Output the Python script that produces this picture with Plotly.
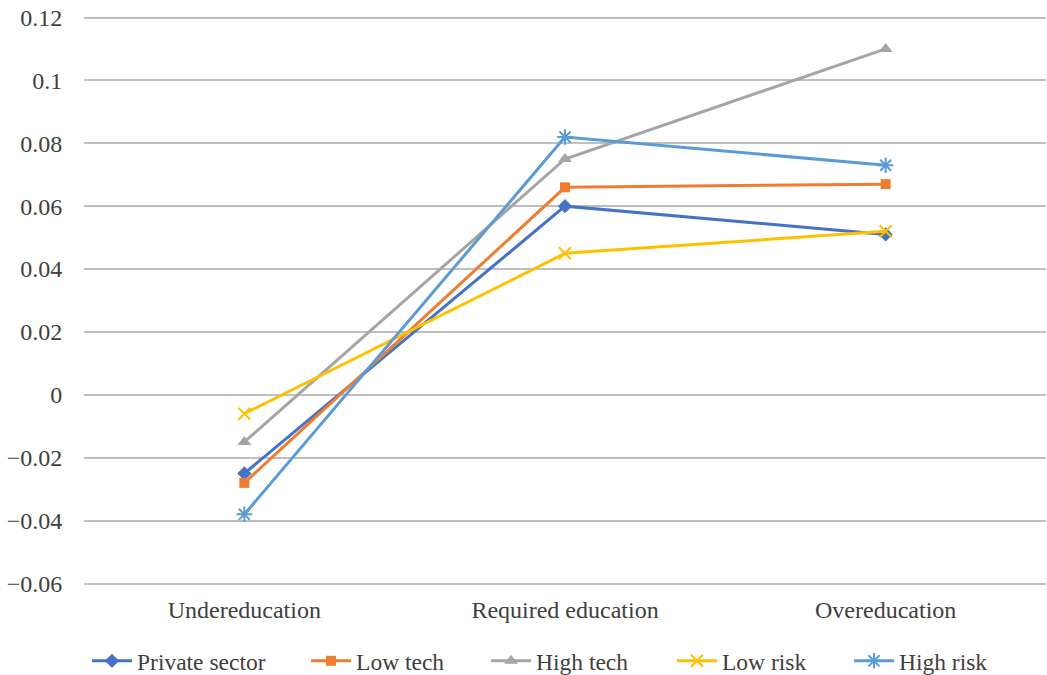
import plotly.graph_objects as go

categories = ["Undereducation", "Required education", "Overeducation"]
private_sector = [-0.025, 0.060, 0.051]
low_tech = [-0.028, 0.066, 0.067]
high_tech = [-0.015, 0.075, 0.110]
low_risk = [-0.006, 0.045, 0.052]
high_risk = [-0.038, 0.082, 0.073]
ytick_vals = [-0.06, -0.04, -0.02, 0, 0.02, 0.04, 0.06, 0.08, 0.1, 0.12]
ytick_text = ["\u22120.06", "\u22120.04", "\u22120.02", "0", "0.02", "0.04", "0.06", "0.08", "0.1", "0.12"]

series = [
    ("Private sector", private_sector, "#4472C4", "diamond", 11, 0),
    ("Low tech", low_tech, "#ED7D31", "square", 10, 0),
    ("High tech", high_tech, "#A5A5A5", "triangle-up", 12, 0),
    ("Low risk", low_risk, "#FFC000", "x-thin-open", 12, 2),
    ("High risk", high_risk, "#5B9BD5", "asterisk-open", 13, 2),
]
legend_x = [0.0031, 0.2308, 0.4179, 0.6112, 0.7952]

font = "'Liberation Serif', 'Times New Roman', serif"
fig = go.Figure()
legend_layout = {}
for i, (name, vals, color, sym, size, lw) in enumerate(series):
    key = "legend" if i == 0 else f"legend{i+1}"
    fig.add_trace(go.Scatter(
        x=categories, y=vals, name=name, mode="lines+markers",
        line=dict(color=color, width=3),
        marker=dict(symbol=sym, size=size, color=color,
                    line=dict(color=color, width=lw)),
        legend=key,
    ))
    legend_layout[key] = dict(
        orientation="h", x=legend_x[i], xanchor="left",
        yref="container", y=0.0207, yanchor="middle", bgcolor="rgba(0,0,0,0)",
        font=dict(family=font, size=23.5, color="#404040"),
        itemwidth=40,
    )

# pad the y range by ~1.5 px so the end gridlines are not clipped
pad = 0.000476
fig.update_layout(
    width=1047, height=675,
    margin=dict(l=84, r=1, t=15.5, b=89.5),
    paper_bgcolor="white", plot_bgcolor="white",
    font=dict(family=font, size=24, color="#404040"),
    showlegend=True,
    xaxis=dict(type="category", showgrid=False, showline=False, zeroline=False,
               ticks="outside", ticklen=3, tickcolor="rgba(0,0,0,0)",
               tickfont=dict(family=font, size=24, color="#404040"),
               range=[-0.5, 2.5]),
    yaxis=dict(range=[-0.06 - pad, 0.12 + pad], tickvals=ytick_vals, ticktext=ytick_text,
               showgrid=True, gridcolor="#BFBFBF", gridwidth=1.5,
               zeroline=False, showline=False,
               ticks="outside", ticklen=16, tickcolor="rgba(0,0,0,0)",
               tickfont=dict(family=font, size=24, color="#404040")),
    **legend_layout,
)

fig.write_html("out.html", config={"displayModeBar": False},
               post_script="document.body.style.margin='0';")
